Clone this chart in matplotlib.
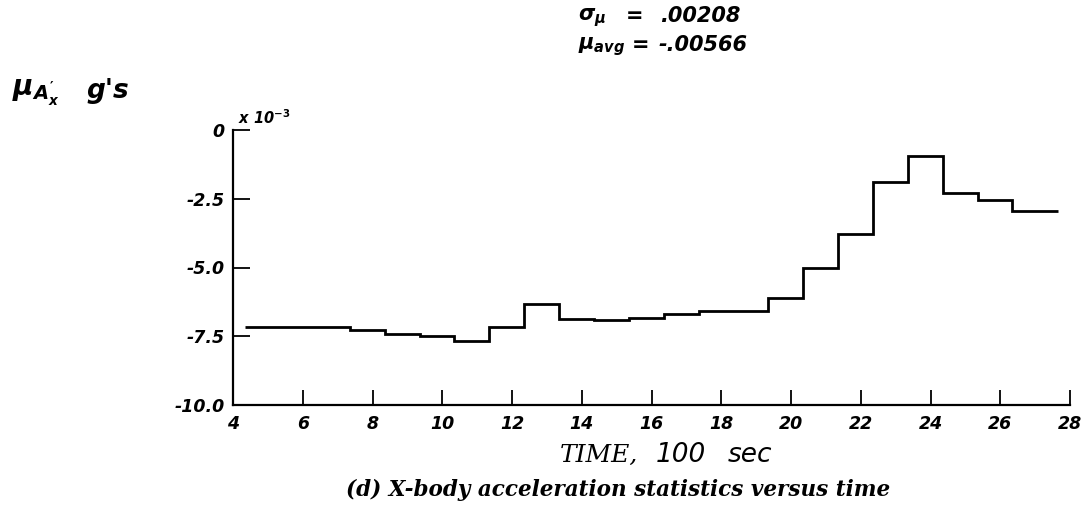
import numpy as np
import matplotlib
matplotlib.use('Agg')
import matplotlib.pyplot as plt

plt.rcParams['font.family'] = ['DejaVu Sans']
plt.rcParams['mathtext.fontset'] = 'custom'
plt.rcParams['mathtext.it'] = 'DejaVu Sans:italic:bold'
plt.rcParams['mathtext.rm'] = 'DejaVu Sans:bold'
plt.rcParams['mathtext.bf'] = 'DejaVu Sans:bold'

# mean x-body acceleration per 100 s window, units of 1e-3 g
time_edges = [4.35, 5.35, 6.35, 7.35, 8.35, 9.35, 10.35, 11.35, 12.35, 13.35,
              14.35, 15.35, 16.35, 17.35, 18.35, 19.35, 20.35, 21.35, 22.35,
              23.35, 24.35, 25.35, 26.35, 27.65]
mu_ax = [-7.15, -7.15, -7.16, -7.27, -7.40, -7.49, -7.68, -7.16, -6.34, -6.88,
         -6.92, -6.85, -6.68, -6.58, -6.57, -6.12, -5.00, -3.77, -1.88, -0.94,
         -2.28, -2.54, -2.93]

xticks = [4, 6, 8, 10, 12, 14, 16, 18, 20, 22, 24, 26, 28]
yticks = [0, -2.5, -5.0, -7.5, -10.0]
ytick_labels = ['0', '-2.5', '-5.0', '-7.5', '-10.0']

sigma_mu = '.00208'
mu_avg = '-.00566'

W, H = 1090, 511
fig = plt.figure(figsize=(10.9, 5.11), dpi=100)
ax = fig.add_axes([233 / W, 106 / H, 837 / W, 275 / H])

ax.stairs(mu_ax, time_edges, baseline=None, color='black', linewidth=2.0)

ax.set_xlim(4, 28)
ax.set_ylim(-10, 0)
ax.spines['top'].set_visible(False)
ax.spines['right'].set_visible(False)
for s in ('left', 'bottom'):
    ax.spines[s].set_linewidth(1.6)

tick_font = dict(fontsize=12.5, fontweight='bold', style='italic')
ax.set_xticks(xticks)
ax.set_xticklabels([str(t) for t in xticks], **tick_font)
ax.set_yticks(yticks)
ax.set_yticklabels(ytick_labels, **tick_font)
ax.tick_params(axis='x', direction='in', length=11, width=1.3, pad=7)
ax.tick_params(axis='y', direction='in', length=12, width=1.3, pad=6)

ax.text(0.006, 1.012, r'x 10$^{-3}$', transform=ax.transAxes, fontsize=10.5,
        fontweight='bold', style='italic', va='bottom', ha='left')


def px(x, y):
    return x / W, 1 - y / H


# y label
fig.text(*px(12, 93), r"$\mu_{A_{x}'}$", fontsize=20, va='center', ha='left')
fig.text(*px(86, 91), "g's", fontsize=19, fontweight='bold', style='italic',
         va='center', ha='left')

# x label
fig.text(*px(560, 455), 'TIME,', family='DejaVu Serif', style='italic',
         fontsize=18, va='center', ha='left')
fig.text(*px(656, 455), '100', style='italic', fontsize=19, va='center', ha='left')
fig.text(*px(728, 455), 'sec', style='italic', fontsize=19, va='center', ha='left')

# caption
fig.text(*px(346, 490), '(d) X-body acceleration statistics versus time',
         family='DejaVu Serif', fontweight='bold', style='italic', fontsize=15.5,
         va='center', ha='left')

# statistics in the top margin
stat_font = dict(fontsize=15, fontweight='bold', style='italic', va='center', ha='left')
fig.text(*px(578, 18), r'$\sigma_{\mu}$', **stat_font)
fig.text(*px(626, 16), '=', **stat_font)
fig.text(*px(660, 16), sigma_mu, **stat_font)
fig.text(*px(578, 47), r'$\mu_{avg}$', **stat_font)
fig.text(*px(632, 45), '=', **stat_font)
fig.text(*px(658, 45), mu_avg, **stat_font)

fig.savefig('out.png', dpi=100)
